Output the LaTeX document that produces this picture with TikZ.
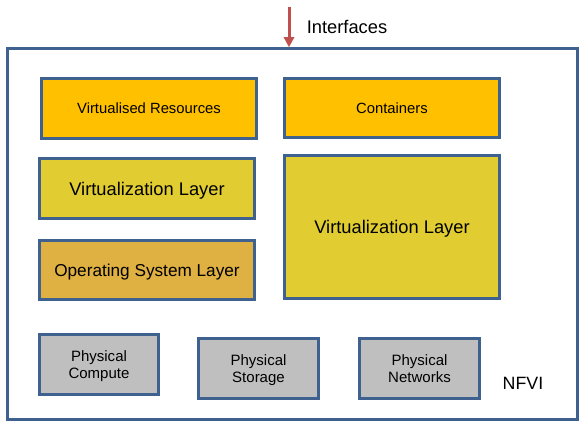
\documentclass[tikz,border=0pt]{standalone}
\usepackage{fontspec}
\setmainfont{Liberation Sans}
\usetikzlibrary{arrows.meta}
\definecolor{bordc}{HTML}{3F6190}
\definecolor{orangec}{HTML}{FFC000}
\definecolor{yellowc}{HTML}{E1CD31}
\definecolor{osc}{HTML}{DFB042}
\definecolor{grayc}{HTML}{BFBFBF}
\definecolor{arrowc}{HTML}{C0504D}
\tikzset{
  x=1pt, y=-1pt,
  layer/.style={draw=bordc, line width=2.5pt, inner sep=0pt, align=center, text=black, text depth=0pt},
  outerbox/.style={draw=bordc, line width=2.5pt, inner sep=0pt},
  ifarrow/.style={draw=arrowc, line width=3pt, -{Triangle[length=10pt,width=10pt]}},
}
\begin{document}
\begin{tikzpicture}
\useasboundingbox (0,0) rectangle (583,428);
% outer NFVI box
\node[outerbox, minimum width=570pt, minimum height=371pt] (nfvi) at (292.5,234) {};
% arrow
\coordinate (ifstart) at (289,7);
\draw[ifarrow] (ifstart) -- (ifstart |- nfvi.north);
\node[font=\fontsize{18.3}{21}\selectfont] (iflabel) at (347,26.5) {Interfaces};
% top row
\node[layer, fill=orangec, minimum width=215pt, minimum height=60pt, font=\fontsize{14.8}{17}\selectfont] (vr) at (149,108.5) {Virtualised Resources};
\node[layer, fill=orangec, minimum width=215pt, minimum height=59pt, font=\fontsize{14.8}{17}\selectfont] (cont) at (392,108) {Containers};
% left column
\node[layer, fill=yellowc, minimum width=215pt, minimum height=60pt, font=\fontsize{18.3}{21}\selectfont] (vll) at (147,188.5) {Virtualization Layer};
\node[layer, fill=osc, minimum width=215pt, minimum height=59pt, font=\fontsize{17.2}{20}\selectfont] (os) at (147,270) {Operating System Layer};
% right big
\node[layer, fill=yellowc, minimum width=215pt, minimum height=143pt, font=\fontsize{18.3}{21}\selectfont] (vlr) at (392,227) {Virtualization Layer};
% physical
\node[layer, fill=grayc, minimum width=119pt, minimum height=60pt, font=\fontsize{15}{17}\selectfont] (pc) at (99,364.5) {Physical\\Compute};
\node[layer, fill=grayc, minimum width=120pt, minimum height=60pt, font=\fontsize{15}{17}\selectfont] (ps) at (258.5,368.5) {Physical\\Storage};
\node[layer, fill=grayc, minimum width=120pt, minimum height=60pt, font=\fontsize{15}{17}\selectfont] (pn) at (419.5,368.5) {Physical\\Networks};
\node[font=\fontsize{17.8}{20}\selectfont] (nfvilabel) at (523,383) {NFVI};
\end{tikzpicture}
\end{document}
